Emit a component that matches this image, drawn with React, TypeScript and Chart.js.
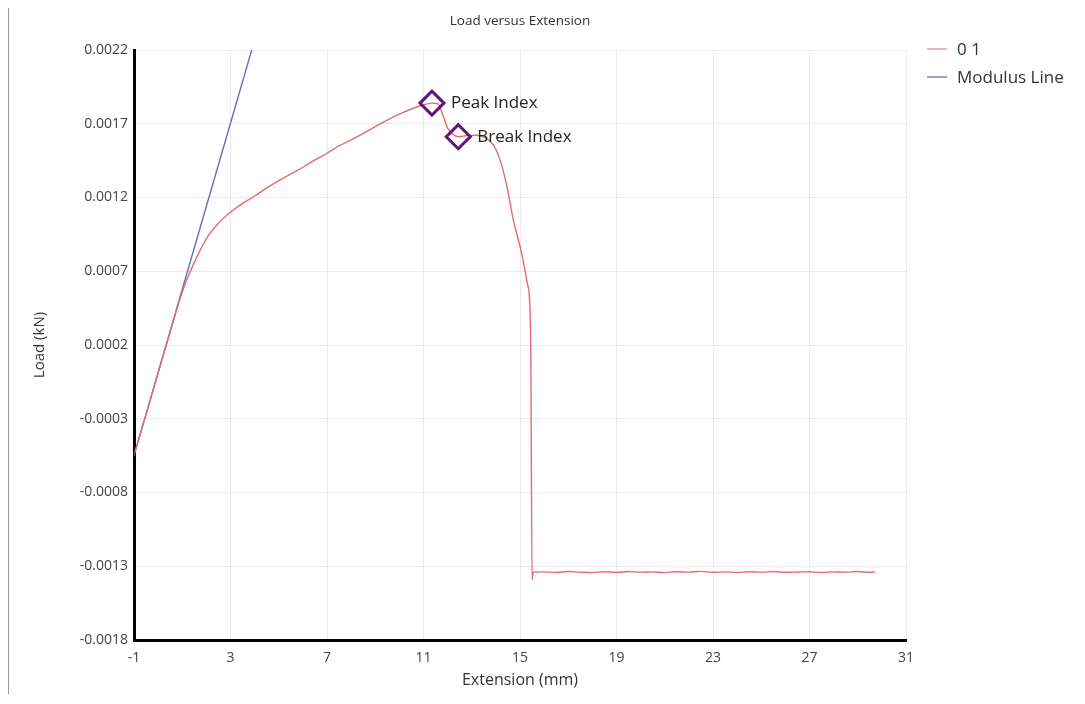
import React, { useEffect, useRef } from "react";
import { Chart, registerables } from "chart.js";

Chart.register(...registerables);

// ---------- data ----------
const seriesNames = ["0 1", "Modulus Line"];

const extension = [
  -0.95, -0.5, 0, 0.5, 1.0, 1.5, 2.0, 2.5, 3.0, 3.5, 4.0, 4.5, 5.0, 5.5, 6.0, 6.5, 7.0, 7.5, 8.0, 8.5,
  9.0, 9.5, 10.0, 10.5, 11.0, 11.35, 11.6, 11.8, 12.0, 12.2, 12.44, 12.8, 13.2, 13.5, 13.9, 14.2,
  14.45, 14.72, 15.07, 15.3, 15.41, 15.45, 15.5, 15.55, 16.0, 16.5, 17.0, 17.5, 18.0, 18.5, 19.0,
  19.5, 20.0, 20.5, 21.0, 21.5, 22.0, 22.5, 23.0, 23.5, 24.0, 24.5, 25.0, 25.5, 26.0, 26.5, 27.0,
  27.5, 28.0, 28.5, 29.0, 29.5, 29.72,
];
const load = [
  -0.00052, -0.00027, 0.00001, 0.00029, 0.00056, 0.00076, 0.00092, 0.001025, 0.0011, 0.00116,
  0.00121, 0.001265, 0.001314, 0.00136, 0.001405, 0.001455, 0.0015, 0.00155, 0.00159, 0.001635,
  0.00168, 0.001725, 0.001765, 0.0018, 0.001827, 0.00184, 0.001835, 0.00176, 0.00167, 0.00163,
  0.001612, 0.00162, 0.001622, 0.00161, 0.001556, 0.00144, 0.00128, 0.00105, 0.00082, 0.00062,
  0.00046, 0.0001, -0.00139, -0.00134, -0.001338, -0.001342, -0.001336, -0.00134, -0.001343,
  -0.001337, -0.001341, -0.001336, -0.00134, -0.001338, -0.001343, -0.001337, -0.00134, -0.001335,
  -0.001341, -0.001338, -0.001342, -0.001337, -0.00134, -0.001336, -0.001341, -0.001339, -0.001337,
  -0.001342, -0.001338, -0.00134, -0.001336, -0.001341, -0.001338,
];

const modulusExtension = [-1, 3.88];
const modulusLoad = [-0.00055, 0.0022];

const markerNames = ["Peak Index", "Break Index"];
const markerExtension = [11.35, 12.44];
const markerLoad = [0.00184, 0.001612];

const xTicks = [-1, 3, 7, 11, 15, 19, 23, 27, 31];
const xTickLabels = ["-1", "3", "7", "11", "15", "19", "23", "27", "31"];
const yTicks = [-0.0018, -0.0013, -0.0008, -0.0003, 0.0002, 0.0007, 0.0012, 0.0017, 0.0022];
const yTickLabels = ["-0.0018", "-0.0013", "-0.0008", "-0.0003", "0.0002", "0.0007", "0.0012", "0.0017", "0.0022"];

// ---------- styles ----------
const FONT = "'Open Sans', 'DejaVu Sans', sans-serif";
const TEXT = "#333333";

const customDraw = {
  id: "customDraw",
  afterDatasetsDraw(chart: any) {
    const ctx = chart.ctx;
    const area = chart.chartArea;
    ctx.save();
    // annotation labels next to markers
    chart.data.datasets.forEach((ds: any, i: number) => {
      if (!ds.annotationLabel) return;
      const meta = chart.getDatasetMeta(i);
      const pt = meta.data[0];
      if (!pt) return;
      ctx.font = `17px ${FONT}`;
      ctx.fillStyle = "#222";
      ctx.textBaseline = "middle";
      ctx.textAlign = "left";
      ctx.fillText(ds.annotationLabel, pt.x + 19, pt.y);
    });
    // legend
    let row = 0;
    chart.data.datasets.forEach((ds: any) => {
      if (!ds.legendColor) return;
      const x0 = area.right + 21;
      const y0 = area.top - 1 + row * 28;
      ctx.strokeStyle = ds.legendColor;
      ctx.lineWidth = 1.5;
      ctx.beginPath();
      ctx.moveTo(x0, y0);
      ctx.lineTo(x0 + 20, y0);
      ctx.stroke();
      ctx.font = `17px ${FONT}`;
      ctx.fillStyle = TEXT;
      ctx.textBaseline = "middle";
      ctx.textAlign = "left";
      ctx.fillText(ds.label, x0 + 30, y0 + 1);
      row++;
    });
    ctx.restore();
  },
};

export default function App() {
  const ref = useRef<HTMLCanvasElement | null>(null);

  useEffect(() => {
    if (!ref.current) return;
    const mainData = extension.map((x, i) => ({ x, y: load[i] }));
    const modData = modulusExtension.map((x, i) => ({ x, y: modulusLoad[i] }));

    const chart = new Chart(ref.current, {
      type: "scatter",
      data: {
        datasets: [
          ...markerNames.map((name, i) => ({
            label: name,
            annotationLabel: name,
            data: [{ x: markerExtension[i], y: markerLoad[i] }],
            pointStyle: "rectRot",
            pointRadius: 12,
            borderWidth: 3,
            borderColor: "#5b1a72",
            backgroundColor: "rgba(0,0,0,0)",
            showLine: false,
          })),
          {
            label: seriesNames[0],
            legendColor: "#e39ea2",
            data: mainData,
            showLine: true,
            borderColor: "#e46b70",
            borderWidth: 1.4,
            pointRadius: 0,
            cubicInterpolationMode: "monotone",
          },
          {
            label: seriesNames[1],
            legendColor: "#8080cc",
            data: modData,
            showLine: true,
            borderColor: "#6a6ac8",
            borderWidth: 1.4,
            pointRadius: 0,
          },
        ] as any,
      },
      options: {
        responsive: false,
        animation: false,
        layout: { padding: { top: 0, right: 171, left: 0, bottom: 0 } },
        plugins: {
          legend: { display: false },
          tooltip: { enabled: false },
          title: {
            display: true,
            text: "Load versus Extension",
            fullSize: false,
            color: TEXT,
            font: { family: FONT, size: 13.5, weight: "normal", lineHeight: 1 },
            padding: { top: 6, bottom: 22.5 },
          },
        },
        scales: {
          x: {
            type: "linear",
            min: -1,
            max: 31,
            afterBuildTicks: (s: any) => {
              s.ticks = xTicks.map((v) => ({ value: v }));
            },
            afterFit: (s: any) => {
              s.height = 54;
            },
            ticks: {
              autoSkip: false,
              maxRotation: 0,
              padding: 10,
              color: "#444",
              font: { family: FONT, size: 14 },
              callback: (_v: any, i: number) => xTickLabels[i],
            },
            grid: { color: "#ececec", drawTicks: false },
            border: { color: "#000", width: 3 },
            title: {
              display: true,
              text: "Extension (mm)",
              color: TEXT,
              font: { family: FONT, size: 16 },
              padding: { top: 0, bottom: 4 },
            },
          },
          y: {
            type: "linear",
            min: -0.0018,
            max: 0.0022,
            afterBuildTicks: (s: any) => {
              s.ticks = yTicks.map((v) => ({ value: v }));
            },
            afterFit: (s: any) => {
              s.width = 126;
            },
            ticks: {
              autoSkip: false,
              padding: 6,
              color: "#444",
              font: { family: FONT, size: 14 },
              callback: (_v: any, i: number) => yTickLabels[i],
            },
            grid: { color: "#ececec", drawTicks: false },
            border: { color: "#000", width: 3 },
            title: {
              display: true,
              text: "Load (kN)",
              color: TEXT,
              font: { family: FONT, size: 15 },
              padding: { top: 23, bottom: 0 },
            },
          },
        },
      } as any,
      plugins: [customDraw],
    });
    return () => chart.destroy();
  }, []);

  return (
    <div style={{ position: "relative", width: 1069, height: 686 }}>
      <div
        style={{
          position: "absolute",
          left: -1,
          top: -4,
          width: 1070,
          height: 695,
          borderLeft: "2px solid #9a9a9a",
          borderTop: "2px solid #9a9a9a",
          boxSizing: "border-box",
          pointerEvents: "none",
        }}
      />
      <canvas ref={ref} width={1069} height={686} style={{ display: "block" }} />
    </div>
  );
}
